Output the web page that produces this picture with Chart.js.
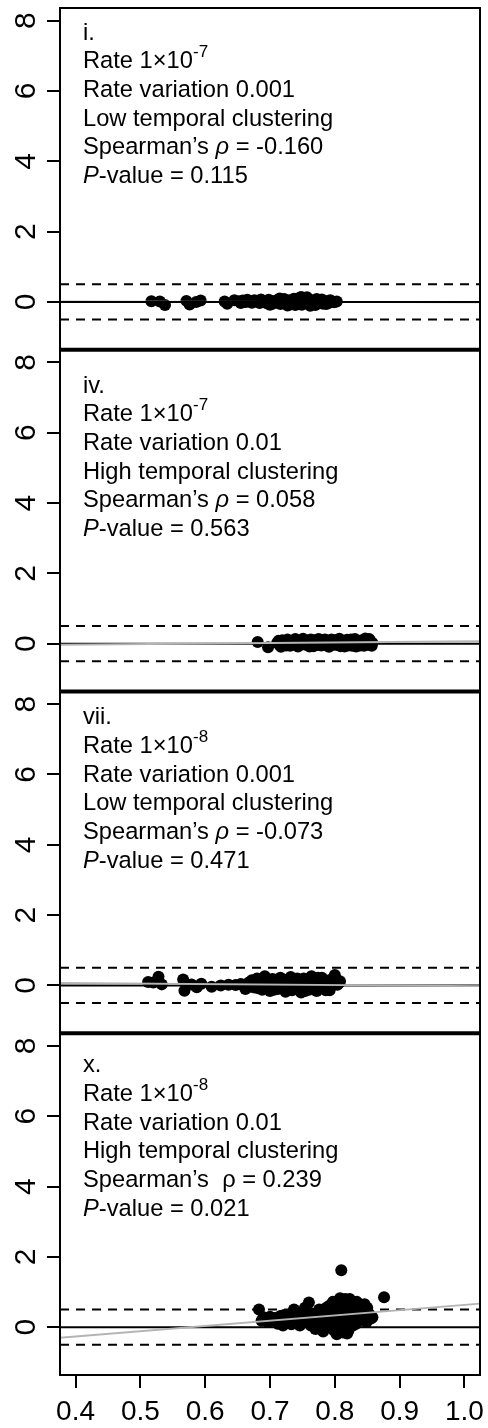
<!DOCTYPE html>
<html>
<head>
<meta charset="utf-8">
<script src="https://cdn.jsdelivr.net/npm/chart.js@4"></script>
<style>
  html, body { margin: 0; padding: 0; background: #fff; }
  #wrap { width: 488px; height: 1428px; }
</style>
</head>
<body>
<div id="wrap"><canvas id="resid" width="488" height="1428"></canvas></div>
<script>
// axis limits and ticks
const xMin = 0.376, xMax = 1.024;
const yMin = -1.36, yMax = 8.36;
const xTicks = [0.4, 0.5, 0.6, 0.7, 0.8, 0.9, 1.0];
const yTicks = [0, 2, 4, 6, 8];

// panel captions
const panelIds = ["i.", "iv.", "vii.", "x."];
const rateExp = ["-7", "-7", "-8", "-8"];
const rateVar = ["0.001", "0.01", "0.001", "0.01"];
const clustering = ["Low", "High", "Low", "High"];
const rhoText = ["-0.160", "0.058", "-0.073", "0.239"];
const pText = ["0.115", "0.563", "0.471", "0.021"];

// fitted line per panel (intercept, slope)
const fitA = [0.035, -0.088, 0.122, -0.863];
const fitB = [-0.045, 0.154, -0.139, 1.497];

// points [x, residual]
const pts1 = [
  [0.517,0.02],[0.530,0.01],[0.538,-0.09],[0.571,0.03],[0.576,-0.07],[0.586,0.00],[0.593,0.04],
  [0.630,0.01],[0.634,-0.05],[0.645,0.05],[0.652,0.02],[0.655,-0.03],[0.658,0.04],[0.663,0.00],
  [0.665,0.06],[0.668,0.03],[0.672,-0.02],[0.676,0.05],[0.680,0.01],[0.684,-0.03],[0.686,0.07],
  [0.688,0.04],[0.691,0.00],[0.695,-0.04],[0.698,0.06],[0.700,-0.08],[0.701,0.02],[0.704,-0.05],
  [0.707,0.03],[0.710,-0.01],[0.713,0.07],[0.715,0.10],[0.716,-0.06],[0.719,0.02],[0.722,0.08],
  [0.725,-0.03],[0.727,-0.10],[0.728,0.05],[0.731,-0.07],[0.734,0.01],[0.737,0.09],[0.739,-0.09],
  [0.740,-0.04],[0.743,0.06],[0.746,0.12],[0.748,0.14],[0.749,-0.08],[0.752,0.03],[0.755,0.10],
  [0.757,0.13],[0.758,-0.05],[0.761,0.07],[0.762,-0.11],[0.764,-0.02],[0.767,0.04],[0.770,-0.09],
  [0.772,0.08],[0.773,0.05],[0.776,-0.03],[0.779,0.02],[0.780,0.07],[0.782,-0.05],[0.785,0.03],
  [0.787,-0.06],[0.788,0.00],[0.791,-0.02],[0.793,0.05],[0.795,0.02],[0.799,-0.01],[0.803,0.01]
];
const pts2 = [
  [0.681,0.05],[0.697,-0.10],[0.711,0.02],[0.713,0.08],[0.715,-0.04],[0.717,-0.09],[0.719,0.10],
  [0.721,0.05],[0.723,0.00],[0.725,-0.05],[0.727,0.12],[0.729,0.03],[0.731,-0.06],[0.733,-0.02],
  [0.735,0.08],[0.737,0.02],[0.739,0.13],[0.741,0.07],[0.743,-0.08],[0.745,-0.05],[0.747,0.05],
  [0.749,0.00],[0.751,0.14],[0.753,0.06],[0.755,-0.03],[0.757,0.03],[0.759,0.09],[0.761,-0.08],
  [0.763,0.12],[0.765,0.07],[0.767,-0.07],[0.769,0.10],[0.771,0.04],[0.773,-0.04],[0.775,0.13],
  [0.777,0.06],[0.779,-0.05],[0.781,-0.02],[0.783,0.10],[0.785,0.12],[0.787,0.02],[0.789,-0.06],
  [0.791,-0.09],[0.793,0.04],[0.795,0.12],[0.797,-0.03],[0.799,0.06],[0.801,0.10],[0.803,-0.04],
  [0.805,0.03],[0.807,0.14],[0.809,-0.07],[0.811,0.01],[0.813,0.06],[0.815,-0.08],[0.817,0.00],
  [0.819,0.11],[0.821,-0.05],[0.823,0.06],[0.825,0.12],[0.827,-0.06],[0.829,0.02],[0.831,0.13],
  [0.833,-0.08],[0.835,0.03],[0.837,0.08],[0.839,-0.05],[0.841,0.00],[0.843,0.10],[0.845,-0.06],
  [0.847,0.15],[0.849,0.05],[0.851,-0.03],[0.853,0.13],[0.855,0.08],[0.857,-0.06],[0.858,0.02]
];
const pts3 = [
  [0.512,0.10],[0.520,0.08],[0.528,0.25],[0.533,0.03],[0.566,0.17],[0.568,-0.15],[0.579,0.03],
  [0.587,-0.05],[0.594,0.05],[0.610,-0.04],[0.624,0.00],[0.636,0.02],[0.647,0.01],[0.655,0.04],
  [0.662,-0.10],[0.665,0.02],[0.667,0.08],[0.670,-0.04],[0.672,0.15],[0.674,0.05],[0.676,-0.06],
  [0.678,0.10],[0.680,0.20],[0.682,-0.08],[0.684,0.02],[0.686,0.12],[0.688,-0.12],[0.690,0.05],
  [0.692,0.26],[0.694,-0.06],[0.696,0.10],[0.698,0.14],[0.700,-0.16],[0.702,0.02],[0.704,0.18],
  [0.706,-0.12],[0.708,0.04],[0.710,0.10],[0.712,-0.10],[0.714,0.02],[0.716,0.22],[0.718,-0.08],
  [0.720,0.12],[0.722,0.16],[0.724,-0.18],[0.726,-0.04],[0.728,0.06],[0.730,0.10],[0.732,0.24],
  [0.734,-0.14],[0.736,-0.08],[0.738,0.06],[0.740,0.16],[0.742,0.20],[0.744,0.00],[0.746,-0.08],
  [0.748,-0.20],[0.750,0.04],[0.752,0.20],[0.754,-0.16],[0.756,0.10],[0.758,0.18],[0.760,-0.12],
  [0.762,-0.04],[0.764,0.26],[0.766,0.10],[0.768,0.04],[0.770,-0.10],[0.772,-0.16],[0.774,0.22],
  [0.776,0.14],[0.778,-0.02],[0.780,0.22],[0.782,0.08],[0.784,-0.06],[0.786,-0.14],[0.788,0.08],
  [0.790,0.14],[0.792,-0.14],[0.794,-0.02],[0.796,0.18],[0.798,0.10],[0.800,0.30],[0.802,0.18],
  [0.804,0.02],[0.806,0.06],[0.808,0.12]
];
const pts4 = [
  [0.683,0.50],[0.687,0.18],[0.690,0.28],[0.694,0.22],[0.697,0.15],[0.700,0.30],[0.703,0.20],
  [0.707,0.26],[0.710,0.25],[0.712,0.10],[0.716,0.32],[0.718,0.18],[0.720,0.05],[0.722,0.35],
  [0.724,0.22],[0.727,0.28],[0.729,0.14],[0.731,0.22],[0.733,0.08],[0.735,0.15],[0.737,0.50],
  [0.740,0.20],[0.742,0.25],[0.744,0.35],[0.746,0.05],[0.748,0.12],[0.750,0.30],[0.752,0.45],
  [0.754,0.55],[0.756,0.25],[0.758,0.15],[0.760,0.70],[0.762,0.40],[0.763,0.05],[0.766,0.38],
  [0.768,0.20],[0.770,-0.05],[0.771,0.10],[0.773,0.30],[0.775,0.28],[0.776,0.50],[0.778,-0.05],
  [0.779,0.10],[0.781,0.35],[0.782,-0.12],[0.784,0.05],[0.785,0.40],[0.787,0.55],[0.788,0.20],
  [0.790,0.30],[0.791,0.60],[0.792,0.10],[0.794,0.00],[0.795,0.45],[0.797,0.72],[0.798,0.20],
  [0.799,-0.10],[0.800,0.35],[0.801,0.65],[0.802,0.05],[0.803,-0.20],[0.804,0.30],[0.805,0.55],
  [0.806,0.70],[0.807,-0.05],[0.808,0.82],[0.809,0.40],[0.810,1.62],[0.811,0.10],[0.812,0.60],
  [0.813,-0.15],[0.814,0.45],[0.815,0.25],[0.816,0.80],[0.817,0.75],[0.818,0.05],[0.819,-0.18],
  [0.820,0.50],[0.821,-0.10],[0.822,0.30],[0.823,0.80],[0.824,0.15],[0.825,0.62],[0.826,0.40],
  [0.828,0.05],[0.829,0.70],[0.830,0.25],[0.831,0.50],[0.833,0.10],[0.834,0.72],[0.836,0.45],
  [0.837,0.20],[0.838,0.65],[0.840,0.55],[0.841,0.30],[0.843,0.35],[0.844,0.50],[0.846,0.65],
  [0.847,0.25],[0.849,0.15],[0.850,0.55],[0.852,0.40],[0.854,0.35],[0.856,0.25],[0.858,0.28],
  [0.876,0.85]
];
const panels = [pts1, pts2, pts3, pts4];

// where each caption block starts (y units, first baseline)
const textTop = [7.46, 7.14, 7.43, 7.25];

const FONT = "Liberation Sans, Arial, sans-serif";

function hline(k, y, dash) {
  return {
    type: "line",
    yAxisID: "y" + k,
    data: [{x: xMin, y: y}, {x: xMax, y: y}],
    borderColor: "#000",
    borderWidth: 2,
    borderDash: dash,
    pointRadius: 0,
    order: 2
  };
}

const datasets = [];
panels.forEach(function (pts, k) {
  datasets.push({
    type: "scatter",
    yAxisID: "y" + k,
    data: pts.map(p => ({x: p[0], y: p[1]})),
    pointRadius: 6,
    pointHoverRadius: 6,
    pointBackgroundColor: "#000",
    pointBorderWidth: 0,
    order: 4
  });
  datasets.push(hline(k, 0, []));
  datasets.push(hline(k, 0.5, [9, 7]));
  datasets.push(hline(k, -0.5, [9, 7]));
  datasets.push({
    type: "line",
    yAxisID: "y" + k,
    data: [{x: xMin, y: fitA[k] + fitB[k] * xMin}, {x: xMax, y: fitA[k] + fitB[k] * xMax}],
    borderColor: "#b4b4b4",
    borderWidth: 1.8,
    pointRadius: 0,
    order: k === 0 ? 3 : 1
  });
});

// no label overhang padding: panels butt against each other
function noPad(s) {
  s.paddingTop = 0;
  s.paddingBottom = 0;
  s.paddingLeft = 0;
  s.paddingRight = 0;
}

function panelAxis(k) {
  return {
    type: "linear",
    position: "left",
    stack: "panels",
    stackWeight: 1,
    weight: 4 - k,
    min: yMin,
    max: yMax,
    afterBuildTicks: s => { s.ticks = yTicks.map(v => ({value: v})); },
    afterFit: s => { s.width = 60; noPad(s); },
    grid: { drawOnChartArea: false, tickLength: 13, color: "#000", lineWidth: 2 },
    border: { display: false },
    ticks: {
      color: "#000",
      font: { family: FONT, size: 30 },
      minRotation: 90,
      maxRotation: 90,
      crossAlign: "center",
      padding: 12
    }
  };
}

const scales = {
  x: {
    type: "linear",
    position: "bottom",
    min: xMin,
    max: xMax,
    afterBuildTicks: s => { s.ticks = xTicks.map(v => ({value: v})); },
    afterFit: s => { s.height = 53; noPad(s); },
    grid: { drawOnChartArea: false, tickLength: 13, color: "#000", lineWidth: 2 },
    border: { display: false },
    ticks: {
      color: "#000",
      font: { family: FONT, size: 28 },
      maxRotation: 0,
      padding: 7,
      callback: v => v.toFixed(1)
    }
  }
};
for (let k = 0; k < 4; k++) scales["y" + k] = panelAxis(k);

// box around each panel, thicker where panels meet
const frames = {
  id: "frames",
  afterDatasetsDraw(chart) {
    const c = chart.ctx, a = chart.chartArea;
    c.save();
    c.strokeStyle = "#000";
    c.lineWidth = 2;
    for (let k = 0; k < 4; k++) {
      const s = chart.scales["y" + k];
      c.strokeRect(a.left, s.top, a.right - a.left, s.bottom - s.top);
    }
    c.lineWidth = 4;
    for (let k = 0; k < 3; k++) {
      const s = chart.scales["y" + k];
      c.beginPath();
      c.moveTo(a.left, s.bottom);
      c.lineTo(a.right, s.bottom);
      c.stroke();
    }
    c.restore();
  }
};

// caption block in the upper left of each panel
const captions = {
  id: "captions",
  afterDatasetsDraw(chart) {
    const c = chart.ctx;
    const x0 = chart.chartArea.left + 23;
    const gap = 28.7;
    c.save();
    c.fillStyle = "#000";
    c.textBaseline = "alphabetic";
    c.textAlign = "left";
    for (let k = 0; k < 4; k++) {
      const base = chart.scales["y" + k].getPixelForValue(textTop[k]);
      const rhoItalic = k < 3;
      const lines = [
        [[panelIds[k], "n"]],
        [["Rate 1\u00d710", "n"], [rateExp[k], "sup"]],
        [["Rate variation " + rateVar[k], "n"]],
        [[clustering[k] + " temporal clustering", "n"]],
        [[rhoItalic ? "Spearman\u2019s " : "Spearman\u2019s  ", "n"],
         ["\u03c1", rhoItalic ? "i" : "n"],
         [" = " + rhoText[k], "n"]],
        [["P", "i"], ["-value = " + pText[k], "n"]]
      ];
      lines.forEach(function (segs, i) {
        let x = x0;
        const y = base + i * gap;
        segs.forEach(function (sg) {
          let dy = 0;
          if (sg[1] === "sup") { c.font = "17px " + FONT; dy = -11; }
          else if (sg[1] === "i") c.font = "italic 23.7px " + FONT;
          else c.font = "23.7px " + FONT;
          c.fillText(sg[0], x, y + dy);
          x += c.measureText(sg[0]).width;
        });
      });
    }
    c.restore();
  }
};

new Chart(document.getElementById("resid").getContext("2d"), {
  type: "scatter",
  data: { datasets: datasets },
  options: {
    responsive: false,
    animation: false,
    layout: { padding: { left: 0, right: 8, top: 8, bottom: 0 } },
    plugins: { legend: { display: false }, tooltip: { enabled: false } },
    events: [],
    scales: scales
  },
  plugins: [frames, captions]
});
</script>
</body>
</html>
